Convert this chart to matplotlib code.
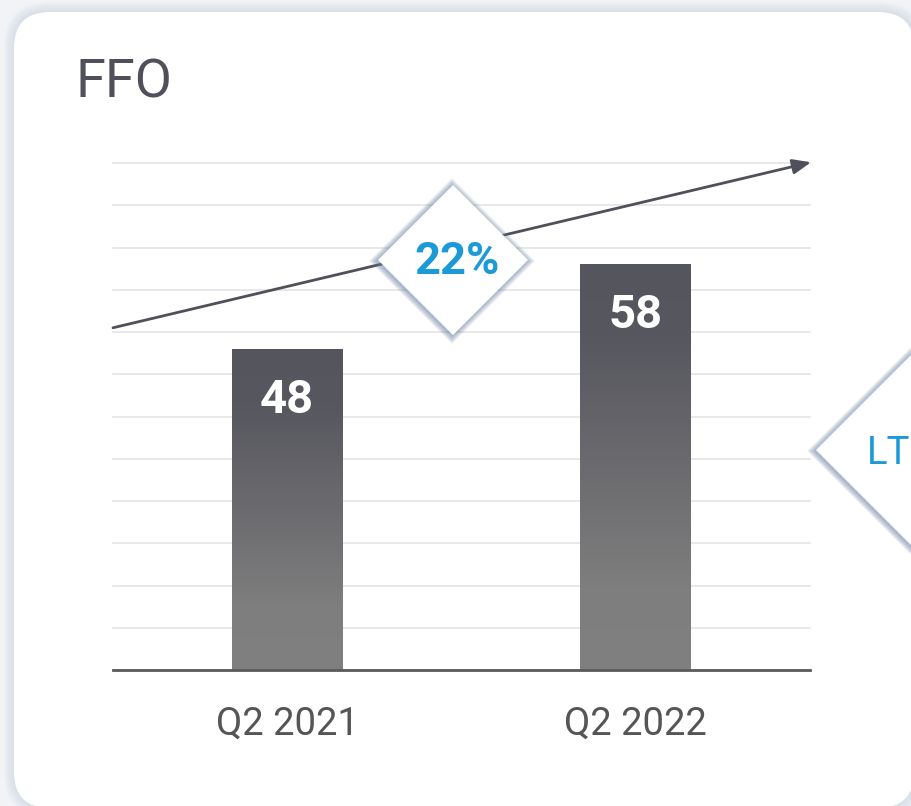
"""FFO Q2 2021 vs Q2 2022 bar card with growth arrow and 22% diamond."""

import matplotlib
matplotlib.use("Agg")
import matplotlib.pyplot as plt
import numpy as np
from matplotlib.colors import LinearSegmentedColormap
from matplotlib.patches import FancyBboxPatch, Polygon

plt.rcParams["font.family"] = ["Roboto", "DejaVu Sans"]

TITLE = "FFO"
CATEGORIES = ["Q2 2021", "Q2 2022"]
VALUES = [48, 58]
GROWTH_LABEL = "22%"
SIDE_LABEL = "LT"
Y_MIN, Y_MAX, Y_STEP = 10, 70, 5

W, H = 912, 806
BLUE = "#1c9ad8"
DARK = "#52525c"

fig = plt.figure(figsize=(W / 100, H / 100), dpi=100)
fig.patch.set_facecolor("#f1f3f6")


def pixel_axes(zorder):
    a = fig.add_axes([0, 0, 1, 1], zorder=zorder)
    a.set_xlim(0, W)
    a.set_ylim(H, 0)
    a.axis("off")
    a.patch.set_alpha(0)
    return a


# background card with soft bluish glow
bg = pixel_axes(0)
for k in range(10, 0, -1):
    bg.add_patch(FancyBboxPatch(
        (14 - k, 12 - k), 900 + 2 * k, 796 + 2 * k,
        boxstyle=f"round,pad=0,rounding_size={36 + k}",
        facecolor="#c9d4e3", edgecolor="none", alpha=0.07))
bg.add_patch(FancyBboxPatch(
    (14, 12), 900, 796, boxstyle="round,pad=0,rounding_size=36",
    facecolor="white", edgecolor="none"))
bg.text(76, 97, TITLE, fontsize=39, color="#50505a", ha="left", va="baseline")

# chart
ax = fig.add_axes([113 / W, (H - 670) / H, 697 / W, 507 / H], zorder=1)
ax.patch.set_alpha(0)
ax.set_xlim(-0.5, 1.5)
ax.set_ylim(Y_MIN, Y_MAX)
for s in ["top", "right", "left"]:
    ax.spines[s].set_visible(False)
ax.spines["bottom"].set_color("#5a5a5a")
ax.spines["bottom"].set_linewidth(2)
ax.set_yticks(np.arange(Y_MIN, Y_MAX + 1, Y_STEP))
ax.set_yticklabels([])
ax.tick_params(axis="y", length=0)
ax.grid(axis="y", color="#e2e2e2", linewidth=1.1)
for gl in ax.get_ygridlines():
    gl.set_clip_on(False)
ax.set_axisbelow(True)
x = np.arange(len(CATEGORIES))
ax.set_xticks(x)
ax.set_xticklabels(CATEGORIES, fontsize=27.5, color="#555555")
ax.tick_params(axis="x", length=0, pad=26)

cmap = LinearSegmentedColormap.from_list(
    "bar", [(0, "#55555e"), (0.18, "#57575f"), (0.8, "#7e7e7e"), (1, "#808080")])
grad = np.linspace(0, 1, 256).reshape(-1, 1)
bars = ax.bar(x, VALUES, width=0.318, color="none", edgecolor="none", zorder=2)
for b, v in zip(bars, VALUES):
    x0, w = b.get_x(), b.get_width()
    im = ax.imshow(grad, cmap=cmap, aspect="auto", origin="upper",
                   extent=(x0, x0 + w, Y_MIN, v), zorder=2)
    im.set_clip_path(b)
    ax.annotate(str(v), (x0 + w / 2, v), xytext=(0, -64), textcoords="offset pixels",
                ha="center", va="baseline", fontsize=34, fontweight="bold",
                color="white", zorder=3)
ax.set_xlim(-0.5, 1.5)
ax.set_ylim(Y_MIN, Y_MAX)

ax.annotate("", xy=(1.0015, 1.0015), xytext=(0, 0.675),
            xycoords="axes fraction", textcoords="axes fraction",
            arrowprops=dict(arrowstyle="-|>,head_length=1.1,head_width=0.45",
                            color="#50505a", lw=2, shrinkA=0, shrinkB=0),
            annotation_clip=False, zorder=4)

# diamonds overlay
ov = pixel_axes(2)


def diamond(cx, cy, r, **kw):
    return Polygon([(cx - r, cy), (cx, cy - r), (cx + r, cy), (cx, cy + r)],
                   closed=True, **kw)


for cx, cy, r in [(453, 260, 75), (926, 450, 110)]:
    for k in range(8, 0, -1):
        ov.add_patch(diamond(cx - 1, cy + 1, r + k, facecolor="#6a80a3",
                             edgecolor="none", alpha=0.09))
    ov.add_patch(diamond(cx, cy, r, facecolor="white", edgecolor="none"))

ov.text(457, 274, GROWTH_LABEL, fontsize=32.5, fontweight="bold", color=BLUE,
        ha="center", va="baseline")
ov.text(867, 464, SIDE_LABEL, fontsize=27.5, color=BLUE, ha="left", va="baseline")

fig.savefig("out.png", dpi=100, facecolor=fig.get_facecolor())
